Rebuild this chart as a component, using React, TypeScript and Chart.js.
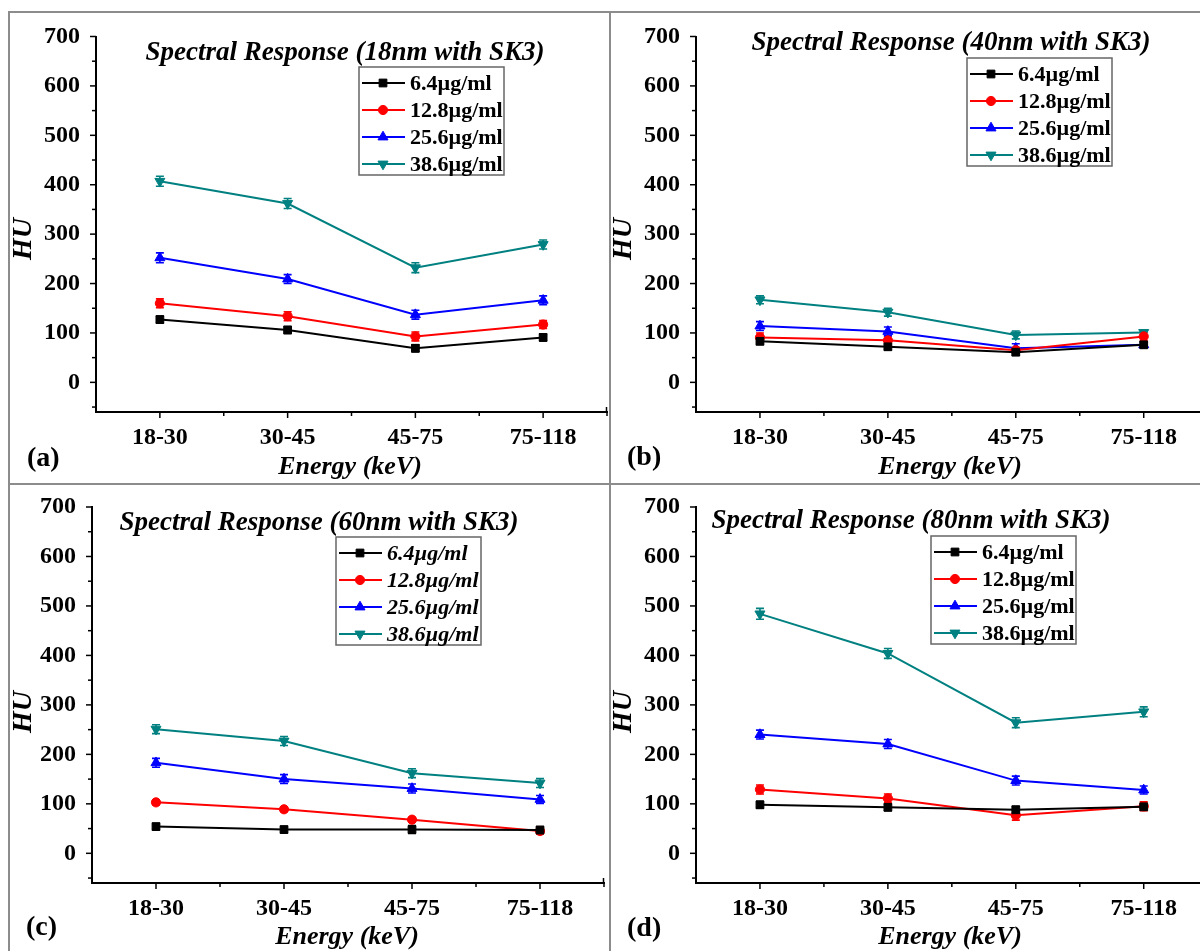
import React, { useEffect, useRef } from 'react';
import { Chart, registerables } from 'chart.js';

Chart.register(...registerables);

// ---------- data ----------
const categories = ['18-30', '30-45', '45-75', '75-118'];
const seriesLabels = ['6.4µg/ml', '12.8µg/ml', '25.6µg/ml', '38.6µg/ml'];
const yTickValues = [0, 100, 200, 300, 400, 500, 600, 700];

// (a) 18nm
const a_6_4 = [127, 106, 69, 91];
const a_12_8 = [160, 134, 93, 117];
const a_25_6 = [252, 209, 137, 166];
const a_38_6 = [407, 362, 232, 279];
const aErr_6_4 = [7, 7, 7, 7];
const aErr_12_8 = [9, 9, 9, 8];
const aErr_25_6 = [10, 9, 9, 9];
const aErr_38_6 = [10, 10, 10, 9];

// (b) 40nm
const b_6_4 = [83, 72, 61, 76];
const b_12_8 = [91, 85, 65, 93];
const b_25_6 = [114, 103, 69, 76];
const b_38_6 = [167, 142, 96, 101];
const bErr_6_4 = [6, 6, 6, 6];
const bErr_12_8 = [9, 9, 6, 8];
const bErr_25_6 = [9, 9, 9, 6];
const bErr_38_6 = [8, 8, 8, 5];

// (c) 60nm
const c_6_4 = [54, 48, 48, 47];
const c_12_8 = [103, 89, 68, 45];
const c_25_6 = [183, 150, 131, 109];
const c_38_6 = [251, 227, 162, 142];
const cErr_6_4 = [6, 6, 8, 7];
const cErr_12_8 = [5, 5, 5, 6];
const cErr_25_6 = [9, 9, 9, 8];
const cErr_38_6 = [9, 9, 9, 9];

// (d) 80nm
const d_6_4 = [98, 93, 88, 94];
const d_12_8 = [129, 111, 77, 95];
const d_25_6 = [240, 221, 147, 128];
const d_38_6 = [484, 404, 264, 286];
const dErr_6_4 = [7, 7, 7, 7];
const dErr_12_8 = [9, 9, 10, 9];
const dErr_25_6 = [9, 9, 9, 8];
const dErr_38_6 = [11, 10, 10, 10];

// ---------- styles ----------
const colors = ['#000000', '#FF0000', '#0000FF', '#008080'];
const pointStyles = ['rect', 'circle', 'triangle', 'triangle'];
const pointRotations = [0, 0, 0, 180];
const pointRadii = [5.5, 4.6, 5.8, 5.8];
const SERIF = "'Liberation Serif', 'Times New Roman', serif";

type PanelCfg = {
  tag: string;
  title: string;
  series: number[][];
  errors: number[][];
  left: number; top: number; w: number; h: number;
  area: { l: number; t: number; r: number; b: number };
  xMax: number;
  endTick: boolean;
  legend: { x: number; y: number; italic: boolean };
  titlePos: { x: number; y: number };
  huPos: { x: number; y: number };
  energyPos: { x: number; y: number };
  tagPos: { x: number; y: number };
};

const panels: PanelCfg[] = [
  {
    tag: '(a)', title: 'Spectral Response (18nm with SK3)',
    series: [a_6_4, a_12_8, a_25_6, a_38_6], errors: [aErr_6_4, aErr_12_8, aErr_25_6, aErr_38_6],
    left: 0, top: 0, w: 610, h: 484,
    area: { l: 96, t: 36.5, r: 607, b: 412 }, xMax: 3.5, endTick: true,
    legend: { x: 359, y: 67, italic: false },
    titlePos: { x: 345, y: 53 }, huPos: { x: 24, y: 239 }, energyPos: { x: 350, y: 467 }, tagPos: { x: 27, y: 459 },
  },
  {
    tag: '(b)', title: 'Spectral Response (40nm with SK3)',
    series: [b_6_4, b_12_8, b_25_6, b_38_6], errors: [bErr_6_4, bErr_12_8, bErr_25_6, bErr_38_6],
    left: 610, top: 0, w: 590, h: 484,
    area: { l: 86, t: 36.5, r: 590, b: 412 }, xMax: 3.44, endTick: false,
    legend: { x: 357, y: 58, italic: false },
    titlePos: { x: 341, y: 43 }, huPos: { x: 14, y: 239 }, energyPos: { x: 340, y: 467 }, tagPos: { x: 17, y: 458 },
  },
  {
    tag: '(c)', title: 'Spectral Response (60nm with SK3)',
    series: [c_6_4, c_12_8, c_25_6, c_38_6], errors: [cErr_6_4, cErr_12_8, cErr_25_6, cErr_38_6],
    left: 0, top: 484, w: 610, h: 467,
    area: { l: 92, t: 23, r: 604, b: 399 }, xMax: 3.5, endTick: true,
    legend: { x: 336, y: 53, italic: true },
    titlePos: { x: 319, y: 39 }, huPos: { x: 24, y: 228 }, energyPos: { x: 347, y: 453 }, tagPos: { x: 26, y: 444 },
  },
  {
    tag: '(d)', title: 'Spectral Response (80nm with SK3)',
    series: [d_6_4, d_12_8, d_25_6, d_38_6], errors: [dErr_6_4, dErr_12_8, dErr_25_6, dErr_38_6],
    left: 610, top: 484, w: 590, h: 467,
    area: { l: 86, t: 23, r: 590, b: 399 }, xMax: 3.44, endTick: false,
    legend: { x: 321, y: 52, italic: false },
    titlePos: { x: 301, y: 37 }, huPos: { x: 14, y: 228 }, energyPos: { x: 340, y: 453 }, tagPos: { x: 17, y: 445 },
  },
];

const Y_AXIS_W = 60;
const X_AXIS_H = 40;

function drawMarker(ctx: CanvasRenderingContext2D, si: number, x: number, y: number) {
  ctx.save();
  ctx.fillStyle = colors[si];
  ctx.strokeStyle = colors[si];
  ctx.lineWidth = 1;
  const r = pointRadii[si];
  ctx.beginPath();
  if (pointStyles[si] === 'rect') {
    const s = r * Math.SQRT1_2;
    ctx.rect(x - s, y - s, 2 * s, 2 * s);
  } else if (pointStyles[si] === 'circle') {
    ctx.arc(x, y, r, 0, Math.PI * 2);
  } else {
    let rad = (pointRotations[si] * Math.PI) / 180;
    ctx.moveTo(x + Math.sin(rad) * r, y - Math.cos(rad) * r);
    rad += (2 * Math.PI) / 3;
    ctx.lineTo(x + Math.sin(rad) * r, y - Math.cos(rad) * r);
    rad += (2 * Math.PI) / 3;
    ctx.lineTo(x + Math.sin(rad) * r, y - Math.cos(rad) * r);
    ctx.closePath();
  }
  ctx.fill();
  ctx.stroke();
  ctx.restore();
}

function makePlugin(p: PanelCfg) {
  return {
    id: 'panelDeco' + p.tag.replace(/[()]/g, ''),
    beforeDatasetsDraw(chart: any) {
      const ctx: CanvasRenderingContext2D = chart.ctx;
      const xs = chart.scales.x;
      const ys = chart.scales.y;
      ctx.save();
      p.series.forEach((vals, si) => {
        ctx.strokeStyle = colors[si];
        ctx.lineWidth = 1.6;
        vals.forEach((v, i) => {
          const e = p.errors[si][i];
          const x = xs.getPixelForValue(i);
          const y1 = ys.getPixelForValue(v - e);
          const y2 = ys.getPixelForValue(v + e);
          ctx.beginPath();
          ctx.moveTo(x, y1); ctx.lineTo(x, y2);
          ctx.moveTo(x - 4, y1); ctx.lineTo(x + 4, y1);
          ctx.moveTo(x - 4, y2); ctx.lineTo(x + 4, y2);
          ctx.stroke();
        });
      });
      ctx.restore();
    },
    afterDraw(chart: any) {
      const ctx: CanvasRenderingContext2D = chart.ctx;
      const xs = chart.scales.x;
      const ys = chart.scales.y;
      const ca = chart.chartArea;
      ctx.save();
      ctx.strokeStyle = '#000';
      ctx.lineWidth = 1.5;
      // y ticks
      for (let v = -50; v <= 700; v += 50) {
        const y = ys.getPixelForValue(v);
        const len = v % 100 === 0 ? 6 : 4;
        ctx.beginPath();
        ctx.moveTo(ca.left, y);
        ctx.lineTo(ca.left - len, y);
        ctx.stroke();
      }
      // x ticks
      for (let v = 0; v < categories.length; v += 0.5) {
        const x = xs.getPixelForValue(v);
        const len = Number.isInteger(v) ? 6 : 4;
        ctx.beginPath();
        ctx.moveTo(x, ca.bottom);
        ctx.lineTo(x, ca.bottom + len);
        ctx.stroke();
      }
      if (p.endTick) {
        ctx.beginPath();
        ctx.moveTo(ca.right - 0.5, ca.bottom);
        ctx.lineTo(ca.right - 0.5, ca.bottom - 5);
        ctx.stroke();
      }
      // legend
      const L = p.legend;
      ctx.strokeStyle = '#666';
      ctx.lineWidth = 1.5;
      ctx.strokeRect(L.x, L.y, 145, 108);
      ctx.font = `${L.italic ? 'italic ' : ''}bold 22px ${SERIF}`;
      ctx.textBaseline = 'middle';
      ctx.textAlign = 'left';
      seriesLabels.forEach((lab, si) => {
        const ry = L.y + 16 + si * 27;
        ctx.strokeStyle = colors[si];
        ctx.lineWidth = 2;
        ctx.beginPath();
        ctx.moveTo(L.x + 3, ry);
        ctx.lineTo(L.x + 46, ry);
        ctx.stroke();
        drawMarker(ctx, si, L.x + 24, ry);
        ctx.fillStyle = '#000';
        ctx.fillText(lab, L.x + 51, ry + 1);
      });
      // title
      ctx.fillStyle = '#000';
      ctx.textAlign = 'center';
      ctx.font = `italic bold 27px ${SERIF}`;
      ctx.fillText(p.title, p.titlePos.x, p.titlePos.y);
      // x title
      ctx.font = `italic bold 26px ${SERIF}`;
      ctx.fillText('Energy (keV)', p.energyPos.x, p.energyPos.y);
      // y title
      ctx.save();
      ctx.translate(p.huPos.x, p.huPos.y);
      ctx.rotate(-Math.PI / 2);
      ctx.font = `italic bold 28px ${SERIF}`;
      ctx.fillText('HU', 0, 0);
      ctx.restore();
      // panel tag
      ctx.textAlign = 'left';
      ctx.font = `bold 28px ${SERIF}`;
      ctx.fillText(p.tag, p.tagPos.x, p.tagPos.y);
      ctx.restore();
    },
  };
}

function Panel({ p }: { p: PanelCfg }) {
  const ref = useRef<HTMLCanvasElement | null>(null);
  useEffect(() => {
    if (!ref.current) return;
    const tickFont = { family: SERIF, size: 24, weight: 'bold' as const };
    const chart = new Chart(ref.current, {
      type: 'line',
      data: {
        datasets: p.series.map((vals, si) => ({
          label: seriesLabels[si],
          data: vals.map((v, i) => ({ x: i, y: v })),
          borderColor: colors[si],
          backgroundColor: colors[si],
          borderWidth: 2,
          pointStyle: pointStyles[si] as any,
          pointRotation: pointRotations[si],
          pointRadius: pointRadii[si],
          pointBorderWidth: 1,
          tension: 0,
          fill: false,
        })),
      },
      options: {
        animation: false,
        responsive: false,
        maintainAspectRatio: false,
        events: [],
        layout: {
          autoPadding: false,
          padding: {
            left: p.area.l - Y_AXIS_W,
            top: p.area.t,
            right: p.w - p.area.r,
            bottom: p.h - p.area.b - X_AXIS_H,
          },
        },
        plugins: {
          legend: { display: false },
          tooltip: { enabled: false },
          title: { display: false },
        },
        scales: {
          x: {
            type: 'linear',
            min: -0.5,
            max: p.xMax,
            afterFit: (s: any) => {
              s.height = X_AXIS_H;
              s.paddingLeft = 0;
              s.paddingRight = 0;
              s.paddingTop = 0;
              s.paddingBottom = 0;
            },
            afterBuildTicks: (s: any) => { s.ticks = categories.map((_, i) => ({ value: i })); },
            grid: { display: false, drawTicks: false },
            border: { display: true, color: '#000', width: 2 },
            ticks: {
              autoSkip: false,
              maxRotation: 0,
              padding: 11,
              color: '#000',
              font: tickFont,
              callback: (v: any) => (Number.isInteger(v) && v >= 0 && v < categories.length ? categories[v] : ''),
            },
          },
          y: {
            type: 'linear',
            min: -60,
            max: 700,
            afterFit: (s: any) => {
              s.width = Y_AXIS_W;
              s.paddingLeft = 0;
              s.paddingRight = 0;
              s.paddingTop = 0;
              s.paddingBottom = 0;
            },
            afterBuildTicks: (s: any) => { s.ticks = yTickValues.map((v) => ({ value: v })); },
            grid: { display: false, drawTicks: false },
            border: { display: true, color: '#000', width: 2 },
            ticks: {
              autoSkip: false,
              padding: 16,
              color: '#000',
              font: tickFont,
              callback: (v: any) => String(v),
            },
          },
        },
      },
      plugins: [makePlugin(p)],
    });
    return () => chart.destroy();
  }, [p]);
  return (
    <canvas
      ref={ref}
      width={p.w}
      height={p.h}
      style={{ position: 'absolute', left: p.left, top: p.top, width: p.w, height: p.h }}
    />
  );
}

export default function App() {
  const line = '#8c8c8c';
  return (
    <div style={{ position: 'absolute', left: 0, top: 0, width: 1200, height: 951, background: '#fff', overflow: 'hidden' }}>
      {panels.map((p) => (
        <Panel key={p.tag} p={p} />
      ))}
      <div style={{ position: 'absolute', left: 8, top: 11, width: 1192, height: 2, background: line }} />
      <div style={{ position: 'absolute', left: 8, top: 483, width: 1192, height: 2, background: line }} />
      <div style={{ position: 'absolute', left: 8, top: 11, width: 2, height: 940, background: line }} />
      <div style={{ position: 'absolute', left: 609, top: 11, width: 2, height: 940, background: line }} />
    </div>
  );
}
